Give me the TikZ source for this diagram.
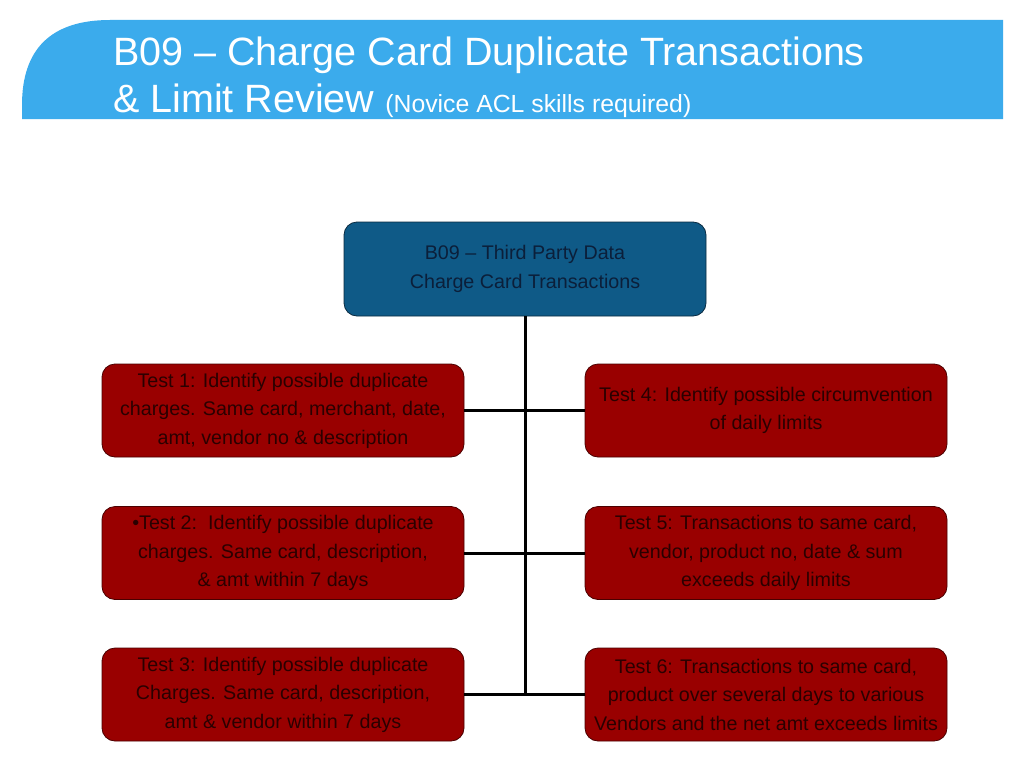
\documentclass[tikz,border=0pt]{standalone}
\usepackage{fontspec}
\setmainfont{Liberation Sans}
\definecolor{band}{HTML}{3BABEC}
\definecolor{topfill}{HTML}{0F5A87}
\definecolor{topedge}{HTML}{0A2A40}
\definecolor{topText}{HTML}{0B1F3A}
\definecolor{redfill}{HTML}{990000}
\definecolor{redText}{HTML}{2A0000}
\definecolor{redEdge}{HTML}{4A0000}
\begin{document}
\begin{tikzpicture}[x=1pt,y=-1pt,
  boxbase/.style={rectangle,rounded corners=13pt,minimum width=362pt,minimum height=93pt,inner sep=0pt,align=center,line width=0.8pt,font=\fontsize{19.7}{28.5}\selectfont},
  topbox/.style={boxbase,fill=topfill,draw=topedge,text=topText,minimum height=94pt},
  testbox/.style={boxbase,fill=redfill,draw=redEdge,text=redText},
  conn/.style={line width=3pt,black}]
\useasboundingbox (0,0) rectangle (1024,768);
\fill[white] (0,0) rectangle (1024,768);
% header band
\fill[band] (22,119) -- (22,105) .. controls (22,50) and (50,20) .. (110,20) -- (1003,20) -- (1003,119) -- cycle;
\node[anchor=base west,text=white,inner sep=0pt,font=\fontsize{39.5}{40}\selectfont] (title1) at (113,66) {B09 – Charge Card Duplicate Transactions};
\node[anchor=base west,text=white,inner sep=0pt,font=\fontsize{39.5}{40}\selectfont] (title2) at (113,112) {\& Limit Review {\fontsize{24.8}{26}\selectfont (Novice ACL skills required)}};
% nodes
\node[topbox] (top) at (525,269) {B09 – Third Party Data\\Charge Card Transactions};
\node[testbox] (t1) at (283,410.5) {Test 1: Identify possible duplicate\\charges. Same card, merchant, date,\\amt, vendor no \& description};
\node[testbox] (t2) at (283,553) {•Test 2:\ \ Identify possible duplicate\\charges. Same card, description,\\\& amt within 7 days};
\node[testbox] (t3) at (283,694.5) {Test 3: Identify possible duplicate\\Charges. Same card, description,\\amt \& vendor within 7 days};
\node[testbox] (t4) at (766,410.5) {Test 4: Identify possible circumvention\\of daily limits};
\node[testbox] (t5) at (766,553) {Test 5: Transactions to same card,\\vendor, product no, date \& sum\\exceeds daily limits};
\node[testbox] (t6) at (766,694.5) {Test 6: Transactions to same card,\\product over several days to various\\Vendors and the net amt exceeds limits};
% connectors
\coordinate (bottom) at (top.south |- t3.east);
\draw[conn] (top.south) -- (bottom);
\draw[conn] (t1.east) -- (t4.west);
\draw[conn] (t2.east) -- (t5.west);
\draw[conn] (t3.east) -- (t6.west);
\end{tikzpicture}
\end{document}
